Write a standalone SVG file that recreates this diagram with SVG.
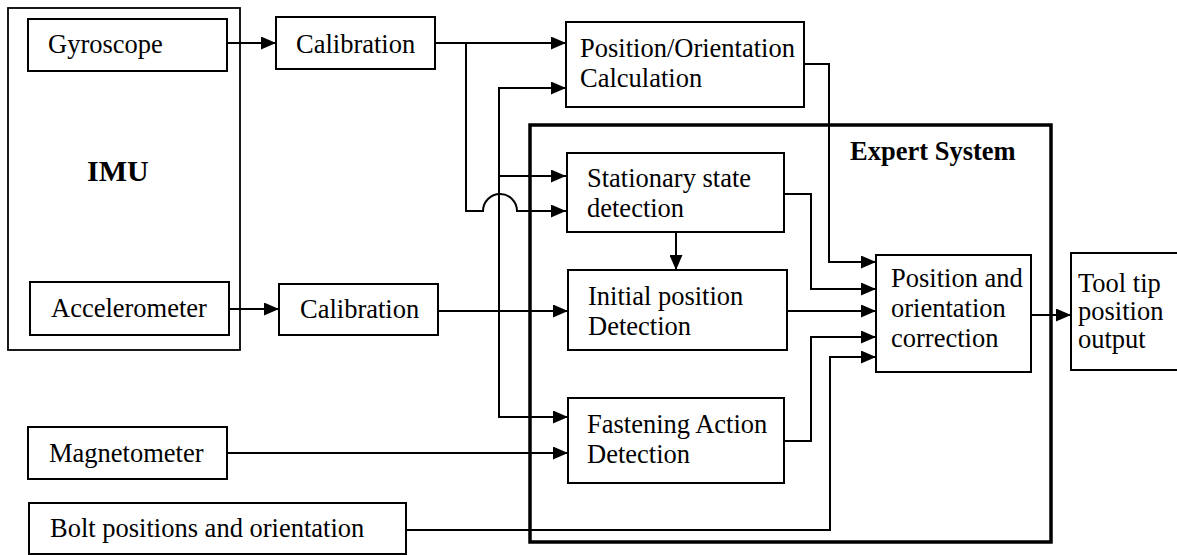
<svg xmlns="http://www.w3.org/2000/svg" width="1177" height="555" viewBox="0 0 1177 555">
<style>
.box{fill:#fff;stroke:#000;stroke-width:2}
.big{fill:none;stroke:#000;stroke-width:1.8}
.thick{fill:none;stroke:#000;stroke-width:3.5}
.t{font-size:26.5px;fill:#000}
.b{font-weight:bold;fill:#000}
.c{fill:none;stroke:#000;stroke-width:2}
</style>
<defs>
<marker id="ah" markerWidth="15" markerHeight="13" refX="15" refY="6.5" orient="auto" markerUnits="userSpaceOnUse">
<path d="M0,0 L15,6.5 L0,13 Z" fill="#000"/>
</marker>
</defs>
<rect width="1177" height="555" fill="#fff"/>
<g font-family="'Liberation Serif', 'DejaVu Serif', serif">
<g id="imu">
<rect class="big" x="8" y="8" width="232" height="342"/>
<text class="b" x="87" y="181" font-size="30">IMU</text>
</g>
<g id="expert">
<rect class="thick" x="530" y="125" width="521" height="417"/>
<text class="b" x="850" y="160" font-size="26.5">Expert System</text>
</g>
<g id="connectors">
<path class="c" d="M227,43 H276" marker-end="url(#ah)"/>
<path class="c" d="M435,43 H566" marker-end="url(#ah)"/>
<path class="c" d="M466,43 V211 H483 A17,17 0 0 1 517,211 H566" marker-end="url(#ah)"/>
<path class="c" d="M229,309 H279" marker-end="url(#ah)"/>
<path class="c" d="M438,311 H568" marker-end="url(#ah)"/>
<path class="c" d="M499,311 V88 H566" marker-end="url(#ah)"/>
<path class="c" d="M499,176 H566" marker-end="url(#ah)"/>
<path class="c" d="M499,311 V417 H568" marker-end="url(#ah)"/>
<path class="c" d="M227,453 H568" marker-end="url(#ah)"/>
<path class="c" d="M406,530 H830 V357 H876" marker-end="url(#ah)"/>
<path class="c" d="M784,194 H811 V289 H876" marker-end="url(#ah)"/>
<path class="c" d="M676,232 V270" marker-end="url(#ah)"/>
<path class="c" d="M787,311 H876" marker-end="url(#ah)"/>
<path class="c" d="M784,441 H811 V337 H876" marker-end="url(#ah)"/>
<path class="c" d="M804,64 H829 V262 H876" marker-end="url(#ah)"/>
<path class="c" d="M1031,315 H1071" marker-end="url(#ah)"/>
</g>
<g id="gyroscope">
<rect class="box" x="28" y="19" width="199" height="52"/>
<text class="t" x="48" y="53">Gyroscope</text>
</g>
<g id="calibration1">
<rect class="box" x="276" y="17" width="159" height="52"/>
<text class="t" x="296" y="53">Calibration</text>
</g>
<g id="accelerometer">
<rect class="box" x="30" y="282" width="199" height="53"/>
<text class="t" x="51" y="317">Accelerometer</text>
</g>
<g id="calibration2">
<rect class="box" x="279" y="284" width="159" height="51"/>
<text class="t" x="300" y="318">Calibration</text>
</g>
<g id="magnetometer">
<rect class="box" x="28" y="427" width="199" height="52"/>
<text class="t" x="49" y="462">Magnetometer</text>
</g>
<g id="bolt">
<rect class="box" x="29" y="503" width="377" height="51"/>
<text class="t" x="50" y="537">Bolt positions and orientation</text>
</g>
<g id="poscalc">
<rect class="box" x="566" y="22" width="238" height="85"/>
<text class="t" x="580" y="57">Position/Orientation</text>
<text class="t" x="580" y="87">Calculation</text>
</g>
<g id="stationary">
<rect class="box" x="567" y="153" width="217" height="79"/>
<text class="t" x="587" y="187">Stationary state</text>
<text class="t" x="587" y="217">detection</text>
</g>
<g id="initial">
<rect class="box" x="568" y="270" width="219" height="80"/>
<text class="t" x="588" y="305">Initial position</text>
<text class="t" x="588" y="335">Detection</text>
</g>
<g id="fastening">
<rect class="box" x="568" y="398" width="216" height="85"/>
<text class="t" x="587" y="433">Fastening Action</text>
<text class="t" x="587" y="463">Detection</text>
</g>
<g id="correction">
<rect class="box" x="876" y="255" width="155" height="117"/>
<text class="t" x="891" y="287">Position and</text>
<text class="t" x="891" y="317">orientation</text>
<text class="t" x="891" y="347">correction</text>
</g>
<g id="tooltip">
<rect class="box" x="1071" y="253" width="110" height="117"/>
<text class="t" x="1078" y="292">Tool tip</text>
<text class="t" x="1078" y="320">position</text>
<text class="t" x="1078" y="348">output</text>
</g>
</g>
</svg>
